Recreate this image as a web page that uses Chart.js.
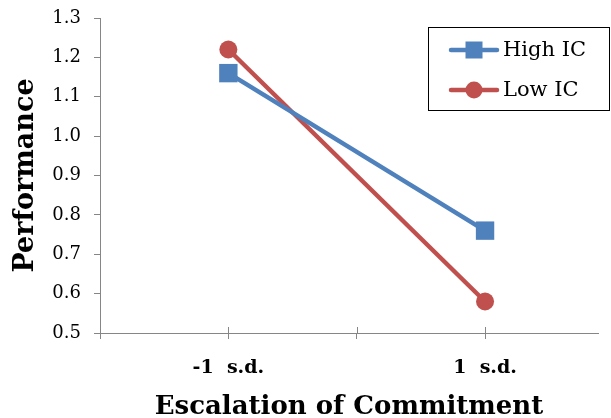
<!DOCTYPE html>
<html>
<head>
<meta charset="utf-8">
<script src="https://cdn.jsdelivr.net/npm/chart.js@4/dist/chart.umd.min.js"></script>
<style>
  html, body { margin: 0; padding: 0; background: #fff; overflow: hidden; }
  #wrap { width: 611px; height: 418px; }
</style>
</head>
<body>
<div id="wrap"><canvas id="chart"></canvas></div>
<script>
// data
const xPositions = [-1, 1];
const xTickValues = [-2, -1, 0, 1];
const xTickLabels = { "-1": "-1  s.d.", "1": "1  s.d." };
const highIC = [1.16, 0.76];
const lowIC = [1.22, 0.58];
const seriesNames = ["High IC", "Low IC"];

const BLUE = "#4F81BD";
const RED = "#C0504D";
const AXIS = "#868686";
const SERIF = "'DejaVu Serif', serif";

function points(vals) {
    return vals.map((v, i) => ({ x: xPositions[i], y: v }));
}

// inner half of the x tick marks + the boxed legend
const extras = {
    id: "extras",
    afterDraw(chart) {
        const ctx = chart.ctx;
        const xs = chart.scales.x;
        const bottom = chart.chartArea.bottom;
        ctx.save();
        ctx.strokeStyle = AXIS;
        ctx.lineWidth = 1;
        xs.ticks.forEach(t => {
            const px = Math.round(xs.getPixelForValue(t.value)) + 0.5;
            ctx.beginPath();
            ctx.moveTo(px, bottom - 6);
            ctx.lineTo(px, bottom);
            ctx.stroke();
        });

        // legend box
        ctx.strokeStyle = "#000";
        ctx.lineWidth = 1;
        ctx.strokeRect(428.5, 27.5, 181, 83);
        const rows = [
            { y: 50, color: BLUE, name: seriesNames[0], shape: "square" },
            { y: 90, color: RED, name: seriesNames[1], shape: "circle" }
        ];
        rows.forEach(r => {
            ctx.strokeStyle = r.color;
            ctx.lineWidth = 4.5;
            ctx.lineCap = "round";
            ctx.beginPath();
            ctx.moveTo(451, r.y);
            ctx.lineTo(497, r.y);
            ctx.stroke();
            ctx.fillStyle = r.color;
            if (r.shape === "square") {
                ctx.fillRect(465.5, r.y - 8.5, 17, 17);
            } else {
                ctx.beginPath();
                ctx.arc(474, r.y, 8.5, 0, Math.PI * 2);
                ctx.fill();
            }
            ctx.fillStyle = "#000";
            ctx.font = "21px " + SERIF;
            ctx.textBaseline = "middle";
            ctx.textAlign = "left";
            ctx.fillText(r.name, 503, r.y + 1);
        });
        ctx.restore();
    }
};

new Chart(document.getElementById("chart").getContext("2d"), {
    type: "line",
    data: {
        datasets: [
            {
                label: seriesNames[0],
                data: points(highIC),
                borderColor: BLUE,
                backgroundColor: BLUE,
                borderWidth: 4.5,
                pointStyle: "rect",
                pointRadius: 13,
                pointBorderWidth: 0,
                pointHoverRadius: 13
            },
            {
                label: seriesNames[1],
                data: points(lowIC),
                borderColor: RED,
                backgroundColor: RED,
                borderWidth: 4.5,
                pointStyle: "circle",
                pointRadius: 9,
                pointBorderWidth: 0,
                pointHoverRadius: 9
            }
        ]
    },
    plugins: [extras],
    options: {
        responsive: true,
        maintainAspectRatio: false,
        animation: false,
        layout: { padding: { top: 18, right: 0, left: 0, bottom: 0 } },
        plugins: {
            legend: { display: false },
            tooltip: { enabled: false }
        },
        scales: {
            x: {
                type: "linear",
                min: -2,
                max: 1.88,
                afterBuildTicks: scale => {
                    scale.ticks = xTickValues.map(v => ({ value: v }));
                },
                afterFit: scale => { scale.height = 85; },
                grid: { drawOnChartArea: false, color: AXIS, tickLength: 6 },
                border: { color: AXIS, width: 1 },
                ticks: {
                    autoSkip: false,
                    maxRotation: 0,
                    padding: 18,
                    color: "#000",
                    font: { family: SERIF, size: 19, weight: "bold" },
                    callback: v => xTickLabels[String(v)] || ""
                },
                title: {
                    display: true,
                    text: "Escalation of Commitment",
                    color: "#000",
                    font: { family: SERIF, size: 26, weight: "bold", lineHeight: 0.85 },
                    padding: { top: 11, bottom: 0 }
                }
            },
            y: {
                min: 0.5,
                max: 1.3,
                afterFit: scale => {
                    scale.width = 100;
                    scale.paddingTop = 0;
                    scale.paddingBottom = 0;
                },
                grid: { drawOnChartArea: false, color: AXIS, tickLength: 6 },
                border: { color: AXIS, width: 1 },
                ticks: {
                    stepSize: 0.1,
                    padding: 13,
                    color: "#000",
                    font: { family: SERIF, size: 18 },
                    callback: v => Number(v).toFixed(1)
                },
                title: {
                    display: true,
                    text: "Performance",
                    color: "#000",
                    font: { family: SERIF, size: 27, weight: "bold" },
                    padding: { top: 10, bottom: 0 }
                }
            }
        }
    }
});
</script>
</body>
</html>
